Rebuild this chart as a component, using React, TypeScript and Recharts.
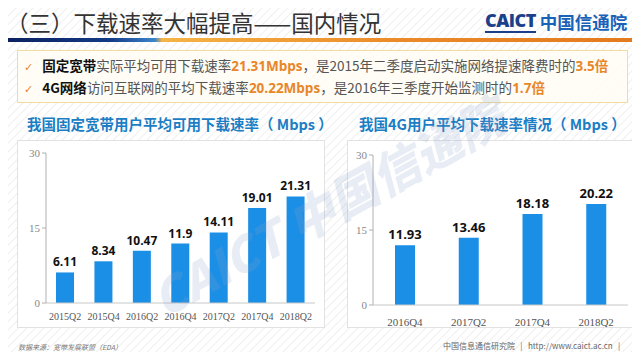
import React from 'react';
import { BarChart, Bar, XAxis, YAxis, LabelList } from 'recharts';

// 固定宽带平均可用下载速率
const broadbandQuarters = ['2015Q2', '2015Q4', '2016Q2', '2016Q4', '2017Q2', '2017Q4', '2018Q2'];
const broadbandSpeeds = [6.11, 8.34, 10.47, 11.9, 14.11, 19.01, 21.31];

// 4G平均下载速率
const mobileQuarters = ['2016Q4', '2017Q2', '2017Q4', '2018Q2'];
const mobileSpeeds = [11.93, 13.46, 18.18, 20.22];

const yTicks = [0, 15, 30];

const broadbandData = broadbandQuarters.map((q, i) => ({ name: q, value: broadbandSpeeds[i] }));
const mobileData = mobileQuarters.map((q, i) => ({ name: q, value: mobileSpeeds[i] }));

const CJK = '"Noto Sans CJK SC", "Noto Sans", sans-serif';
const BAR = '#1b8fe6';
const ORANGE = '#e8862a';

const box: React.CSSProperties = {
  position: 'absolute',
  top: 140,
  height: 188,
  background: '#fff',
  border: '1px solid #e2e2e2',
  boxSizing: 'border-box',
};

const chartTitle: React.CSSProperties = {
  position: 'absolute',
  top: 113,
  fontFamily: CJK,
  fontSize: 14.5,
  fontWeight: 700,
  color: '#1b7dc4',
  whiteSpace: 'nowrap',
};

function SpeedChart({ data, width, yWidth, top, right, barSize, xFont, xOffset, labelFont }: any) {
  return (
    <BarChart width={width} height={186} data={data} margin={{ top, right, left: 0, bottom: 0 }}>
      <XAxis
        dataKey="name"
        height={186 - 150 - top}
        tickLine={false}
        axisLine={{ stroke: '#c8c8c8' }}
        tick={{ fill: '#555', fontSize: xFont, fontFamily: '"Liberation Serif", serif' }}
        dy={xOffset}
        interval={0}
      />
      <YAxis
        domain={[0, 30]}
        ticks={yTicks}
        width={yWidth}
        axisLine={{ stroke: '#b0b0b0' }}
        tickLine={{ stroke: '#b0b0b0' }}
        tickSize={4}
        tick={{ fill: '#888', fontSize: 11, fontFamily: '"Liberation Serif", serif' }}
      />
      <Bar dataKey="value" fill={BAR} barSize={barSize} isAnimationActive={false}>
        <LabelList
          dataKey="value"
          position="top"
          offset={6}
          style={{ fill: '#111', fontSize: labelFont, fontWeight: 700, fontFamily: '"Open Sans", sans-serif' }}
        />
      </Bar>
    </BarChart>
  );
}

export default function App() {
  return (
    <div
      style={{
        position: 'relative',
        width: 640,
        height: 360,
        overflow: 'hidden',
        margin: '-8px',
        background: 'repeating-linear-gradient(135deg, #ffffff 0px, #ffffff 4px, #efefef 5px, #ffffff 6px)',
        fontFamily: CJK,
      }}
    >
      {/* 标题 */}
      <div style={{ position: 'absolute', left: 6, top: 6, fontSize: 22.5, color: '#333', whiteSpace: 'nowrap' }}>
        （三）下载速率大幅提高——国内情况
      </div>
      <div style={{ position: 'absolute', left: 485, top: 9, whiteSpace: 'nowrap', display: 'flex', alignItems: 'center' }}>
        <span
          style={{
            fontFamily: '"Open Sans", sans-serif',
            fontWeight: 800,
            fontSize: 18,
            color: '#1c3f8c',
            borderBottom: '2px solid #1c3f8c',
            lineHeight: '21px',
            letterSpacing: -0.5,
          }}
        >
          CAICT
        </span>
        <span style={{ fontSize: 17.5, fontWeight: 700, color: '#1a62b8', marginLeft: 4 }}>中国信通院</span>
      </div>
      <div
        style={{
          position: 'absolute',
          left: 0,
          top: 38,
          width: 640,
          height: 4,
          background: 'linear-gradient(90deg, #0b1f5e 0px, #123a86 110px, #3c86cc 155px, #f5b445 162px, #eb8a28 400px, #e27a1e 640px)',
        }}
      />

      {/* 要点框 */}
      <div
        style={{
          position: 'absolute',
          left: 17,
          top: 50,
          width: 611,
          height: 53,
          border: '1px solid #f0dc9c',
          background: 'rgba(255,253,245,0.85)',
          boxSizing: 'border-box',
          fontSize: 13.5,
          color: '#555',
          whiteSpace: 'nowrap',
        }}
      >
        <div style={{ position: 'absolute', left: 6, top: 4 }}>
          <span style={{ color: ORANGE, fontFamily: '"DejaVu Sans", sans-serif', fontSize: 11, marginRight: 9 }}>✓</span>
          <b style={{ color: '#111' }}>固定宽带</b>实际平均可用下载速率
          <b style={{ color: ORANGE, fontFamily: '"Open Sans", sans-serif' }}>21.31Mbps</b>，是2015年二季度启动实施网络提速降费时的
          <b style={{ color: ORANGE, fontFamily: '"Open Sans", sans-serif' }}>3.5</b>
          <b style={{ color: ORANGE }}>倍</b>
        </div>
        <div style={{ position: 'absolute', left: 6, top: 26 }}>
          <span style={{ color: ORANGE, fontFamily: '"DejaVu Sans", sans-serif', fontSize: 11, marginRight: 9 }}>✓</span>
          <b style={{ color: '#111' }}>4G网络</b>访问互联网的平均下载速率
          <b style={{ color: ORANGE, fontFamily: '"Open Sans", sans-serif' }}>20.22Mbps</b>，是2016年三季度开始监测时的
          <b style={{ color: ORANGE, fontFamily: '"Open Sans", sans-serif' }}>1.7</b>
          <b style={{ color: ORANGE }}>倍</b>
        </div>
      </div>

      {/* 左图 */}
      <div style={{ ...chartTitle, left: 27 }}>我国固定宽带用户平均可用下载速率（ Mbps ）</div>
      <div style={{ ...box, left: 17, width: 308 }}>
        <SpeedChart
          data={broadbandData}
          width={306}
          yWidth={28}
          top={12}
          right={9}
          barSize={18}
          xFont={10}
          xOffset={2}
          labelFont={12}
        />
      </div>

      {/* 右图 */}
      <div style={{ ...chartTitle, left: 359 }}>我国4G用户平均下载速率情况（ Mbps ）</div>
      <div style={{ ...box, left: 347, width: 288 }}>
        <SpeedChart
          data={mobileData}
          width={286}
          yWidth={25}
          top={14}
          right={6}
          barSize={20}
          xFont={11}
          xOffset={5}
          labelFont={13}
        />
      </div>

      {/* 水印 */}
      <div
        style={{
          position: 'absolute',
          left: 130,
          top: 170,
          transform: 'rotate(-29deg)',
          transformOrigin: 'center',
          fontSize: 48,
          fontWeight: 900,
          color: 'rgba(140,160,200,0.2)',
          whiteSpace: 'nowrap',
          pointerEvents: 'none',
          fontStyle: 'italic',
        }}
      >
        CAICT 中国信通院
      </div>

      {/* 页脚 */}
      <div style={{ position: 'absolute', left: 18, top: 342, fontSize: 7, color: '#777', fontStyle: 'italic' }}>
        数据来源：宽带发展联盟（EDA）
      </div>
      <div style={{ position: 'absolute', left: 443, top: 340, fontSize: 8, color: '#666', whiteSpace: 'nowrap' }}>
        中国信息通信研究院&nbsp;&nbsp;&nbsp;|&nbsp;&nbsp;&nbsp;http://www.caict.ac.cn&nbsp;&nbsp;&nbsp;|
      </div>
    </div>
  );
}
